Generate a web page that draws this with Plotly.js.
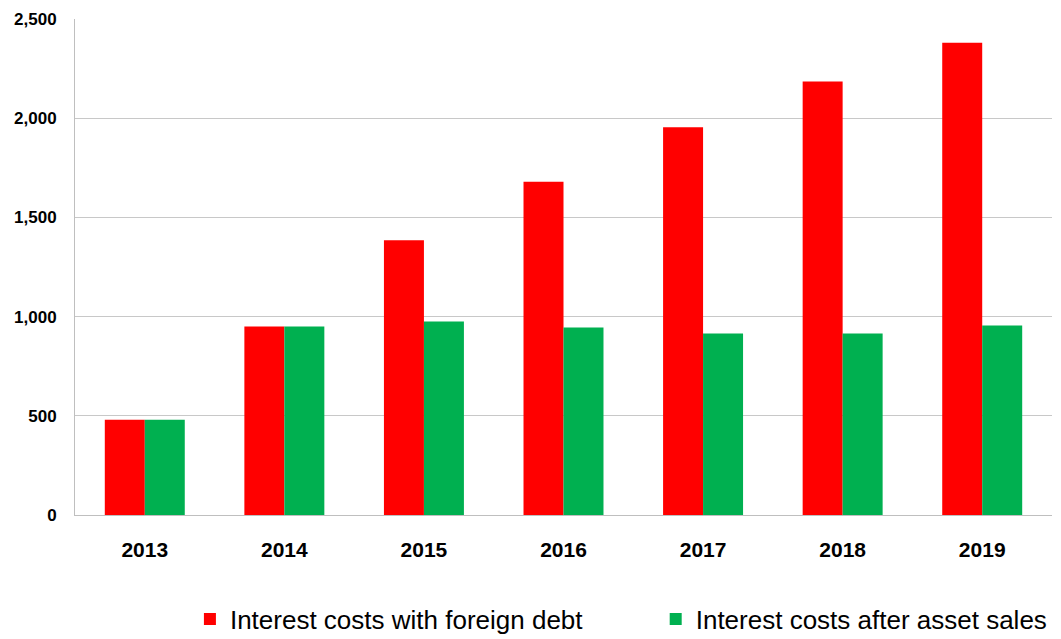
<!DOCTYPE html>
<html>
<head>
<meta charset="utf-8">
<script src="https://cdn.plot.ly/plotly-3.0.1.min.js"></script>
<style>html,body{margin:0;padding:0;background:#fff;}#chart{width:1061px;height:639px;}</style>
</head>
<body>
<div id="chart"></div>
<script>
const years = ["2013", "2014", "2015", "2016", "2017", "2018", "2019"];
const foreignDebt = [480, 950, 1385, 1680, 1955, 2185, 2380];
const afterAssetSales = [480, 950, 975, 945, 915, 915, 955];
const yTicks = [0, 500, 1000, 1500, 2000, 2500];
const yTickLabels = ["0", "500", "1,000", "1,500", "2,000", "2,500"];

const traces = [
  {type: "bar", x: years, y: foreignDebt, name: "Interest costs with foreign debt",
   marker: {color: "#FF0000"}, hoverinfo: "x+y", legend: "legend"},
  {type: "bar", x: years, y: afterAssetSales, name: "Interest costs after asset sales",
   marker: {color: "#00B050"}, hoverinfo: "x+y", legend: "legend2"}
];

const legendCommon = {orientation: "h", xanchor: "left", xref: "container",
  y: 0.031, yanchor: "middle", yref: "container", font: {size: 26}, itemwidth: 30,
  bgcolor: "rgba(0,0,0,0)"};

const layout = {
  width: 1061, height: 639,
  margin: {l: 75, r: 9, t: 19, b: 124, autoexpand: false},
  paper_bgcolor: "#fff", plot_bgcolor: "#fff",
  barmode: "group", bargap: 0.427, bargroupgap: 0,
  font: {family: "Liberation Sans, Arial, sans-serif", color: "#000"},
  xaxis: {
    type: "category", showgrid: false, showline: true, linecolor: "#BFBFBF", linewidth: 1,
    ticks: "", tickfont: {size: 21, weight: "bold"},
    ticklabelstandoff: 16
  },
  yaxis: {
    range: [0, 2500], tickvals: yTicks, ticktext: yTickLabels,
    showgrid: true, gridcolor: "#C8C8C8", gridwidth: 1,
    showline: true, linecolor: "#BFBFBF", linewidth: 1, zeroline: false,
    ticks: "", tickfont: {size: 17, weight: "bold"}, ticklabelstandoff: 14
  },
  showlegend: true,
  legend: Object.assign({}, legendCommon, {x: 0.179}),
  legend2: Object.assign({}, legendCommon, {x: 0.618})
};

Plotly.newPlot("chart", traces, layout, {displayModeBar: false, staticPlot: true});
</script>
</body>
</html>
